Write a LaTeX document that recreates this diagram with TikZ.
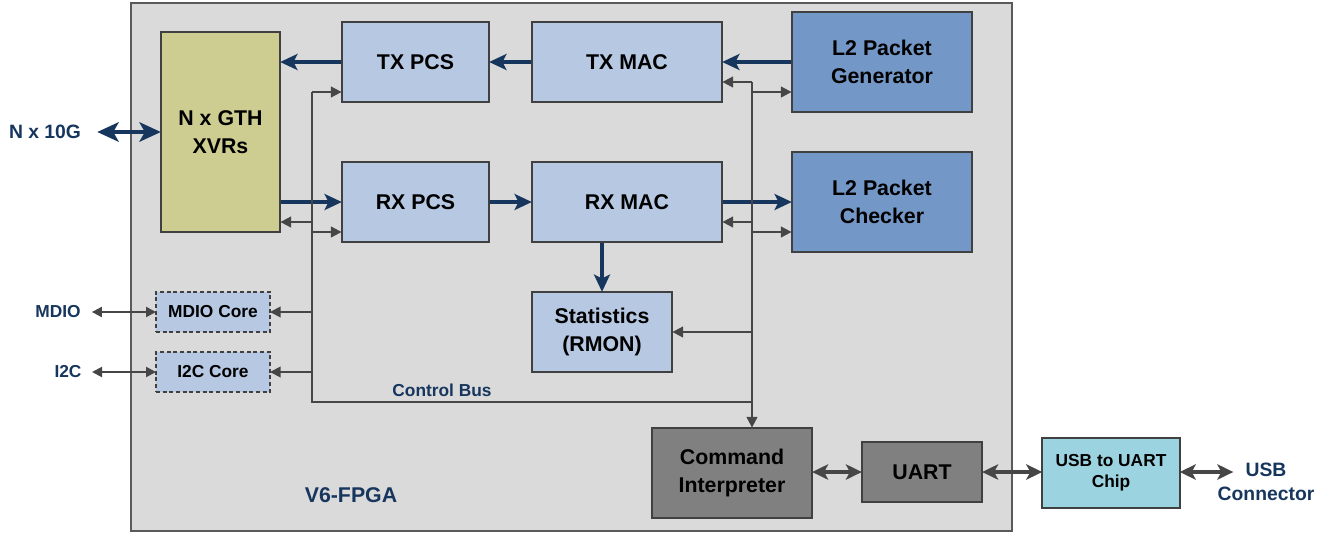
\documentclass[tikz,border=0pt]{standalone}
\usepackage{fontspec}
\setmainfont{Liberation Sans}
\usetikzlibrary{arrows.meta}
\newdimen\px \px=0.75pt
\definecolor{fpgabg}{RGB}{218,218,218}
\definecolor{fpgaedge}{RGB}{90,90,90}
\definecolor{edgec}{RGB}{64,64,64}
\definecolor{lblue}{RGB}{182,200,226}
\definecolor{dblue}{RGB}{115,151,199}
\definecolor{olive}{RGB}{205,205,145}
\definecolor{dgray}{RGB}{128,128,128}
\definecolor{cyanbox}{RGB}{155,212,224}
\definecolor{navy}{RGB}{23,54,93}
\definecolor{linec}{RGB}{70,70,70}
\tikzset{
  box/.style={draw=edgec, line width=2.2pt, align=center, inner sep=0pt,
    font=\fontsize{16}{21}\selectfont\bfseries},
  smallbox/.style={draw=edgec, line width=1.6pt, dash pattern=on 3pt off 2pt, fill=lblue,
    inner sep=0pt, font=\fontsize{13}{16}\selectfont\bfseries},
  navyarrow/.style={draw=navy, line width=2.3pt, shorten >=-1pt, -{Stealth[length=13pt, width=12pt, inset=3pt]}},
  navydouble/.style={draw=navy, line width=3.2pt, shorten >=-1pt, {Stealth[length=16pt, width=14.5pt, inset=4pt]}-{Stealth[length=16pt, width=14.5pt, inset=4pt]}},
  bus/.style={draw=linec, line width=1.4pt},
  busarrow/.style={draw=linec, line width=1.4pt, shorten >=-0.8pt, -{Triangle[length=8pt, width=8pt]}},
  grayddouble/.style={draw=linec, line width=2.3pt, shorten >=-1pt, shorten <=-1pt, {Stealth[length=12pt, width=11.5pt, inset=3pt]}-{Stealth[length=12pt, width=11.5pt, inset=3pt]}},
  thindouble/.style={draw=linec, line width=1.5pt, shorten >=-0.8pt, {Triangle[length=7.5pt, width=7.5pt]}-{Triangle[length=7.5pt, width=7.5pt]}},
  outlabel/.style={text=navy, align=center, inner sep=0pt}
}
\begin{document}
\begin{tikzpicture}[x=0.75pt, y=-0.75pt]
\useasboundingbox (0,0) rectangle (1335,533);
% FPGA area
\node[draw=fpgaedge, fill=fpgabg, line width=1.2pt, minimum width=881\px, minimum height=528\px, inner sep=0pt] (fpga) at (571.5,267) {};
% main boxes
\node[box, fill=olive, minimum width=119\px, minimum height=200\px] (xvr) at (220.5,132) {N x GTH\\XVRs};
\node[box, fill=lblue, minimum width=147\px, minimum height=80\px] (txpcs) at (415.5,62) {TX PCS};
\node[box, fill=lblue, minimum width=190\px, minimum height=80\px] (txmac) at (627,62) {TX MAC};
\node[box, fill=dblue, minimum width=180\px, minimum height=100\px] (l2gen) at (882,62) {L2 Packet\\Generator};
\node[box, fill=lblue, minimum width=147\px, minimum height=80\px] (rxpcs) at (415.5,202) {RX PCS};
\node[box, fill=lblue, minimum width=190\px, minimum height=80\px] (rxmac) at (627,202) {RX MAC};
\node[box, fill=dblue, minimum width=180\px, minimum height=100\px] (l2chk) at (882,202) {L2 Packet\\Checker};
\node[box, fill=lblue, minimum width=140\px, minimum height=80\px] (stats) at (602,332) {Statistics\\(RMON)};
\node[smallbox, minimum width=114\px, minimum height=40\px] (mdio) at (213,312) {MDIO Core};
\node[smallbox, minimum width=114\px, minimum height=40\px] (i2c) at (213,372) {I2C Core};
\node[box, fill=dgray, minimum width=160\px, minimum height=90\px] (cmd) at (732,473) {Command\\Interpreter};
\node[box, fill=dgray, minimum width=120\px, minimum height=60\px] (uart) at (922,472) {UART};
\node[box, fill=cyanbox, line width=1.6pt, minimum width=138\px, minimum height=70\px,
  font=\fontsize{13}{16}\selectfont\bfseries] (usb) at (1111,473) {USB to UART\\Chip};
% outside labels
\node[outlabel, font=\fontsize{14.5}{18}\selectfont\bfseries] (n10g) at (45,132) {N x 10G};
\node[outlabel, font=\fontsize{13}{16}\selectfont\bfseries] (mdiol) at (58,312) {MDIO};
\node[outlabel, font=\fontsize{13}{16}\selectfont\bfseries] (i2cl) at (68,372) {I2C};
\node[outlabel, font=\fontsize{14.5}{18}\selectfont\bfseries] (usbc) at (1266,482) {USB\\Connector};
\node[outlabel, font=\fontsize{13}{16}\selectfont\bfseries] (cbus) at (442,390) {Control Bus};
\node[outlabel, font=\fontsize{16}{20}\selectfont\bfseries] (v6) at (351,495) {V6-FPGA};
% data path
\draw[navyarrow] (l2gen.west) -- (txmac.east);
\draw[navyarrow] (txmac.west) -- (txpcs.west -| txpcs.east);
\draw[navyarrow] (txpcs.west) -- (txpcs.west -| xvr.east);
\draw[navyarrow] (xvr.east |- rxpcs.west) -- (rxpcs.west);
\draw[navyarrow] (rxpcs.east) -- (rxmac.west);
\draw[navyarrow] (rxmac.east) -- (l2chk.west);
\draw[navyarrow] (rxmac.south -| stats.north) -- (stats.north);
\draw[navydouble] (n10g.east) ++(16,0) coordinate (n10ge) -- (n10ge -| xvr.west);
% control bus
\coordinate (tl) at (312,92);
\coordinate (bl) at (312,402);
\coordinate (tr) at (752,82);
\coordinate (br) at (752,402);
\draw[bus] (tl) -- (bl) -- (br);
\draw[busarrow] (tl) -- (tl -| txpcs.west);
\draw[busarrow] (312,222) -- (312,222 -| xvr.east);
\draw[busarrow] (312,232) -- (312,232 -| rxpcs.west);
\draw[busarrow] (mdio.east -| tl) -- (mdio.east);
\draw[busarrow] (i2c.east -| tl) -- (i2c.east);
\draw[busarrow] (tr) -- (tr -| txmac.east);
\draw[busarrow] (752,92) -- (752,92 -| l2gen.west);
\draw[busarrow] (752,222) -- (752,222 -| rxmac.east);
\draw[busarrow] (752,232) -- (752,232 -| l2chk.west);
\draw[busarrow] (stats.east -| tr) -- (stats.east);
\draw[busarrow] (tr) -- (tr |- cmd.north);
% external
\draw[thindouble] (mdiol.east) ++(11,0) coordinate (me) -- (me -| mdio.west);
\draw[thindouble] (92,372) -- (i2c.west);
\draw[grayddouble] (cmd.east |- uart.west) -- (uart.west);
\draw[grayddouble] (uart.east) -- (uart.east -| usb.west);
\draw[grayddouble] (usb.east |- 0,472) -- (1232,472);
\end{tikzpicture}
\end{document}
